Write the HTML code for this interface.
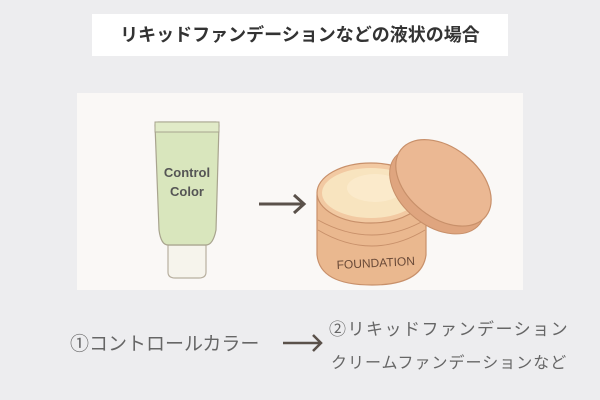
<!DOCTYPE html>
<html><head><meta charset="utf-8"><style>
body{margin:0;width:600px;height:400px;background:#ededef;font-family:"Liberation Sans","Noto Sans CJK JP",sans-serif;position:relative;overflow:hidden}
.t{position:absolute;left:92px;top:14px;width:416px;height:42px;background:#fff;text-align:center;line-height:42px;font-size:18px;font-weight:bold;color:#333}
.p{position:absolute;left:77px;top:93px;width:446px;height:197px;background:#faf8f6}
.tx{position:absolute;color:#666;white-space:nowrap}
</style></head><body>
<div class="t">リキッドファンデーションなどの液状の場合</div>
<div class="p"></div>
<svg width="600" height="400" style="position:absolute;left:0;top:0">
<path d="M168 245 L206 245 L206 272 Q206 278 199 278 L175 278 Q168 278 168 272 Z" fill="#f6f4ec" stroke="#b8b0a0" stroke-width="1.2"/>
<path d="M155 125 Q155 122 158 122 L216 122 Q219 122 219 125 L216 230 Q213 245 206 245 L168 245 Q161 245 159 230 Z" fill="#d9e6bd" stroke="#a8a48e" stroke-width="1.2"/>
<rect x="155" y="122" width="64" height="10" fill="#e1ebc8" stroke="#a8a48e" stroke-width="1"/>
<text x="187" y="177" font-size="13" font-weight="bold" fill="#555" text-anchor="middle" font-family="Liberation Sans">Control</text>
<text x="187" y="196" font-size="13" font-weight="bold" fill="#555" text-anchor="middle" font-family="Liberation Sans">Color</text>
<path d="M259 204 L303 204 M294 195 L304 204 L294 213" stroke="#5a514a" stroke-width="3" fill="none"/>
<path d="M317 195 L317 255 Q320 285 372 285 Q422 285 426 255 L426 195 Z" fill="#eab88f" stroke="#c8906a" stroke-width="1.2"/>
<path d="M318 220 Q372 250 425 220" stroke="#c8906a" fill="none"/>
<path d="M318 230 Q372 262 425 230" stroke="#c8906a" fill="none"/>
<ellipse cx="371" cy="193" rx="54" ry="30" fill="#f2c9a2" stroke="#c8906a" stroke-width="1.2"/>
<ellipse cx="371" cy="193" rx="49" ry="25" fill="#f8e4bf"/>
<ellipse cx="375" cy="188" rx="28" ry="14" fill="#fbeacb"/>
<text x="376" y="267" font-size="12" fill="#6a4a38" text-anchor="middle" transform="rotate(-3 376 267)" font-family="Liberation Sans">FOUNDATION</text>
<g transform="rotate(38 441 186)">
<ellipse cx="441" cy="192" rx="54" ry="35" fill="#dfa57f" stroke="#c8906a"/>
<ellipse cx="441" cy="182" rx="54" ry="35" fill="#ebb893" stroke="#c8906a" stroke-width="1.2"/>
</g>
<path d="M283 343 L320 343 M313 335 L321 343 L313 351" stroke="#5a514a" stroke-width="2.5" fill="none"/>
</svg>
<div class="tx" style="left:70px;top:329px;font-size:19px">①コントロールカラー</div>
<div class="tx" style="left:329px;top:315px;font-size:17px;letter-spacing:1.5px">②リキッドファンデーション</div>
<div class="tx" style="left:331px;top:349px;font-size:16px;letter-spacing:1px">クリームファンデーションなど</div>
</body></html>
